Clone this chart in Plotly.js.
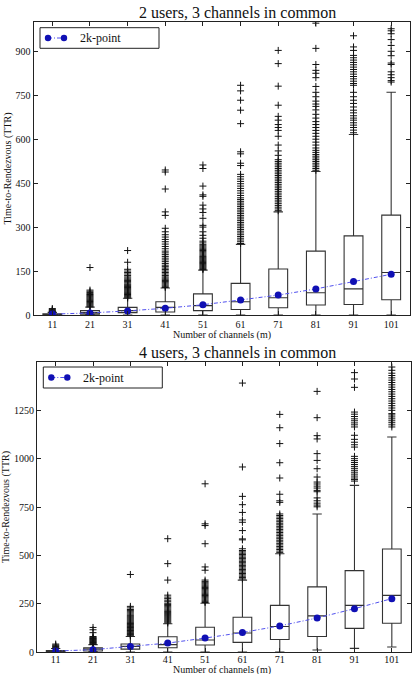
<!DOCTYPE html>
<html>
<head>
<meta charset="utf-8">
<script src="https://cdn.plot.ly/plotly-3.0.1.min.js"></script>
<style>
  html, body { margin: 0; padding: 0; background: #fff; }
  #chart { width: 414px; height: 674px; }
</style>
</head>
<body>
<div id="chart"></div>
<script>
// Number of channels (m) on the x axis
const channels = [11, 21, 31, 41, 51, 61, 71, 81, 91, 101];

// ---- 2 users, 3 channels in common: box statistics of TTR ----
const u2Q1     = [1, 3, 8, 10, 15, 19, 25, 34, 36, 52];
const u2Median = [2, 8, 15, 26, 32, 45, 59, 76, 89, 145];
const u2Q3     = [4, 15, 26, 45, 72, 108, 157, 218, 270, 341];
const u2Low    = [0, 0, 0, 0, 0, 0, 0, 0, 0, 0];
const u2High   = [9, 27, 57, 92, 153, 241, 352, 490, 616, 760];
const u2Mean   = [3, 7, 14, 23, 35, 51, 68, 89, 114, 139];
// outliers for each channel count (same order as channels)
const u2Outliers = [
  [10, 12, 14, 16, 19, 22],
  [28, 31, 34, 37, 40, 43, 46, 49, 52, 55, 58, 61, 64, 67, 70, 73, 77, 81, 85, 162],
  [58, 61, 64, 67, 70, 73, 76, 79, 82, 85, 88, 91, 94, 97, 100, 103, 106, 110, 114, 118,
   122, 126, 130, 135, 140, 145, 150, 156, 180, 220],
  [94, 98, 102, 106, 110, 114, 118, 122, 126, 130, 135, 140, 145, 150, 155, 160, 165, 170,
   176, 182, 188, 194, 200, 206, 212, 218, 226, 234, 242, 250, 258, 266, 274, 284, 296,
   340, 352, 430, 488, 495],
  [155, 158, 161, 164, 167, 170, 173, 176, 179, 182, 185, 188, 191, 194, 197, 200, 204, 208,
   212, 216, 220, 224, 228, 232, 236, 240, 246, 252, 262, 272, 284, 300, 306, 330, 350, 362,
   375, 405, 410, 440, 500, 512],
  [244, 250, 256, 262, 268, 274, 280, 286, 292, 298, 304, 310, 316, 322, 328, 334, 340, 346,
   352, 358, 364, 370, 376, 382, 388, 394, 400, 408, 416, 424, 432, 440, 448, 456, 464, 472,
   480, 510, 518, 550, 557, 653, 699, 733, 765, 784],
  [356, 362, 368, 374, 380, 386, 392, 398, 404, 410, 416, 422, 428, 434, 440, 446, 452, 458,
   464, 470, 476, 482, 488, 494, 500, 506, 512, 518, 524, 530, 545, 560, 580, 610, 630, 640,
   650, 665, 678, 716, 781, 858, 903],
  [494, 500, 506, 512, 518, 524, 530, 536, 542, 548, 555, 562, 570, 580, 590, 600, 610, 620,
   630, 640, 650, 660, 672, 685, 700, 712, 720, 730, 745, 760, 780, 810, 825, 835, 855, 910, 996],
  [622, 631, 640, 648, 656, 665, 672, 680, 690, 699, 710, 722, 733, 745, 760, 784, 790, 798,
   806, 814, 822, 830, 838, 846, 854, 862, 870, 878, 886, 903, 915, 953],
  [795, 800, 810, 820, 830, 855, 860, 885, 900, 920, 940, 960, 970, 977]
];

// ---- 4 users, 3 channels in common: box statistics of TTR ----
const u4Q1     = [1, 5, 15, 22, 36, 50, 65, 80, 122, 149];
const u4Median = [3, 15, 29, 38, 62, 98, 132, 187, 241, 293];
const u4Q3     = [8, 22, 41, 79, 128, 180, 241, 337, 421, 533];
const u4Low    = [0, 0, 0, 0, 0, 0, 0, 10, 19, 26];
const u4High   = [18, 38, 80, 146, 252, 372, 508, 714, 862, 1112];
const u4Mean   = [5, 12, 29, 46, 72, 101, 135, 176, 224, 276];
const u4Outliers = [
  [20, 24, 28, 32, 36, 41],
  [40, 43, 46, 49, 52, 55, 58, 61, 64, 67, 70, 73, 76, 80, 100, 115, 127],
  [83, 87, 91, 95, 99, 103, 107, 111, 115, 119, 123, 127, 131, 135, 139, 143, 147, 151, 155,
   160, 165, 170, 175, 180, 185, 190, 196, 202, 208, 214, 220, 228, 236, 401],
  [150, 155, 160, 165, 170, 175, 180, 185, 190, 195, 200, 205, 210, 216, 222, 228, 234, 240,
   246, 252, 260, 268, 276, 284, 294, 372, 457, 586],
  [256, 262, 268, 274, 280, 286, 292, 298, 304, 310, 316, 322, 328, 334, 340, 346, 352, 358,
   364, 372, 423, 440, 560, 654, 663, 870],
  [378, 385, 392, 399, 406, 413, 420, 427, 434, 441, 448, 455, 462, 469, 476, 483, 490, 497,
   504, 511, 518, 525, 534, 580, 585, 628, 671, 683, 722, 762, 805, 957, 1391],
  [514, 522, 530, 538, 546, 554, 562, 570, 578, 586, 594, 602, 610, 618, 626, 634, 642, 650,
   658, 666, 674, 682, 690, 698, 706, 714, 774, 782, 816, 900, 979, 1078, 1160, 1229],
  [751, 760, 770, 782, 797, 829, 836, 848, 858, 869, 879, 905, 948, 991, 1026, 1102, 1119,
   1212, 1348],
  [884, 892, 900, 910, 920, 930, 940, 950, 960, 970, 980, 990, 1000, 1012, 1060, 1072, 1085,
   1100, 1121, 1164, 1175, 1185, 1196, 1206, 1218, 1230, 1241, 1369, 1412, 1445],
  [1164, 1175, 1186, 1196, 1206, 1216, 1226, 1233, 1250, 1262, 1274, 1286, 1298, 1310, 1322,
   1334, 1346, 1358, 1370, 1382, 1394, 1406, 1418, 1430, 1442, 1457, 1474]
];

const u2YTicks = [0, 150, 300, 450, 600, 750, 900];
const u4YTicks = [0, 250, 500, 750, 1000, 1250];
const seriesName = '2k-point';

const W = 414, H = 674;
const px = v => v / W;          // horizontal pixel -> paper
const py = v => 1 - v / H;      // vertical pixel (from top) -> paper

const serif = 'Liberation Serif';
const ink = '#222';
const blue = '#1010b4';
const meanDash = '4px,2px,1px,2px';

function flatten(outliers) {
  const xs = [], ys = [];
  outliers.forEach((vals, i) => vals.forEach(v => { xs.push(channels[i]); ys.push(v); }));
  return { xs, ys };
}

function panel(q1, med, q3, lo, hi, mean, outliers, xa, ya) {
  const o = flatten(outliers);
  return [
    {
      type: 'box', x: channels, q1: q1, median: med, q3: q3,
      lowerfence: lo, upperfence: hi,
      boxpoints: false, width: 5, whiskerwidth: 0.5,
      line: { color: '#333', width: 1.1 }, fillcolor: 'rgba(255,255,255,0)',
      xaxis: xa, yaxis: ya, showlegend: false, hoverinfo: 'skip'
    },
    {
      type: 'scatter', mode: 'markers', x: o.xs, y: o.ys,
      marker: { symbol: 'cross-thin', size: 5, line: { color: '#111', width: 1 } },
      xaxis: xa, yaxis: ya, showlegend: false, hoverinfo: 'skip'
    },
    {
      type: 'scatter', mode: 'lines+markers', x: channels, y: mean, name: seriesName,
      line: { color: '#5050ee', width: 1, dash: meanDash },
      marker: { color: blue, size: 7 },
      xaxis: xa, yaxis: ya, showlegend: false
    }
  ];
}

const data = [
  ...panel(u2Q1, u2Median, u2Q3, u2Low, u2High, u2Mean, u2Outliers, 'x', 'y'),
  ...panel(u4Q1, u4Median, u4Q3, u4Low, u4High, u4Mean, u4Outliers, 'x2', 'y2')
];

function xAxis(left, right, anchor, standoff) {
  return {
    domain: [px(left), px(right)], range: [6, 106], anchor: anchor,
    tickmode: 'array', tickvals: channels, ticktext: channels.map(String),
    ticks: 'inside', ticklen: 4, tickcolor: ink, mirror: 'ticks',
    ticklabelstandoff: standoff,
    showline: true, linecolor: ink, linewidth: 1,
    showgrid: false, zeroline: false,
    tickfont: { family: serif, size: 10, color: '#111' }
  };
}
function yAxis(top, bottom, maxV, ticks, anchor) {
  return {
    domain: [py(bottom), py(top)], range: [0, maxV], anchor: anchor,
    tickmode: 'array', tickvals: ticks,
    ticks: 'inside', ticklen: 4, tickcolor: ink, mirror: 'ticks',
    showline: true, linecolor: ink, linewidth: 1,
    showgrid: false, zeroline: false,
    tickfont: { family: serif, size: 10, color: '#111' },
    title: { text: 'Time-to-Rendezvous (TTR)', font: { family: serif, size: 10, color: '#111' }, standoff: 2 }
  };
}

const note = (text, x, y, size, anchor) => ({
  text: text, xref: 'paper', yref: 'paper', x: px(x), y: py(y),
  xanchor: anchor || 'center', yanchor: 'middle', showarrow: false,
  font: { family: serif, size: size, color: '#111' }
});

// Legend box for the mean series: frame, key (dot - dash-dot - dot) and label
function legendKey(left, top, right, bottom) {
  const cy = (top + bottom) / 2;
  const k1 = left + 8, k2 = left + 24, r = 3.2;
  const shapes = [
    { type: 'rect', xref: 'paper', yref: 'paper', x0: px(left), x1: px(right), y0: py(bottom), y1: py(top),
      line: { color: ink, width: 1 }, fillcolor: '#fff', layer: 'above' },
    { type: 'line', xref: 'paper', yref: 'paper', x0: px(k1), x1: px(k2), y0: py(cy), y1: py(cy),
      line: { color: '#5050ee', width: 1, dash: meanDash }, layer: 'above' }
  ];
  [k1, k2].forEach(k => shapes.push({
    type: 'circle', xref: 'paper', yref: 'paper',
    x0: px(k - r), x1: px(k + r), y0: py(cy + r), y1: py(cy - r),
    line: { color: blue, width: 0 }, fillcolor: blue, layer: 'above'
  }));
  return { shapes, label: note(seriesName, left + 38, cy, 12, 'left') };
}

const legTop = legendKey(40, 27.7, 159, 48.3);
const legBot = legendKey(43.3, 367, 162.3, 388);

const layout = {
  width: W, height: H,
  margin: { l: 0, r: 0, t: 0, b: 0 },
  font: { family: serif, color: '#111' },
  paper_bgcolor: '#fff', plot_bgcolor: '#fff',
  showlegend: false,
  xaxis: xAxis(33.5, 410, 'y', 0),
  yaxis: yAxis(22, 315, 1000, u2YTicks, 'x'),
  xaxis2: xAxis(37, 410.5, 'y2', -2),
  yaxis2: yAxis(362, 652, 1500, u4YTicks, 'x2'),
  shapes: [...legTop.shapes, ...legBot.shapes],
  annotations: [
    note('2 users, 3 channels in common', 237, 12.5, 16),
    note('4 users, 3 channels in common', 237, 352.5, 16),
    note('Number of channels (m)', 222, 335, 10),
    note('Number of channels (m)', 222, 670, 10),
    legTop.label,
    legBot.label
  ]
};

Plotly.newPlot('chart', data, layout, { displayModeBar: false, staticPlot: true });
</script>
</body>
</html>
